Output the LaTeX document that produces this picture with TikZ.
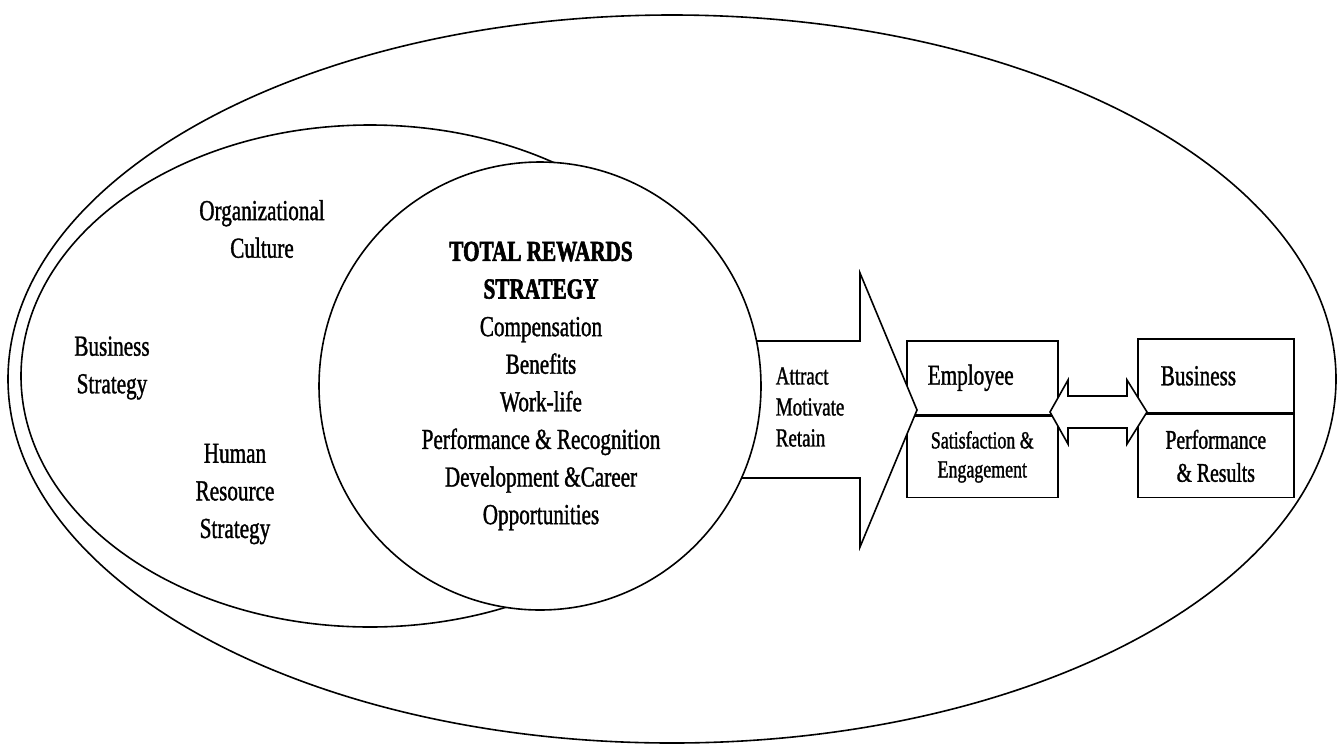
\documentclass[tikz,border=0pt]{standalone}
\usepackage{fontspec}
\setmainfont{Liberation Serif}[FakeStretch=0.73, UprightFeatures={FakeBold=1.2}, BoldFeatures={FakeBold=2}]
\usetikzlibrary{positioning}

\begin{document}
\begin{tikzpicture}[x=1pt, y=-1pt, line width=1.6pt, line join=miter,
    txt/.style={align=center, inner sep=0pt, font=\fontsize{29}{37.6}\selectfont},
    box/.style={draw, inner sep=0pt, minimum height=74, font=\fontsize{29}{34}\selectfont},
    shp/.style={draw, fill=white}]

\useasboundingbox (0,0) rectangle (1344,745);

% rings
\draw (672,379) ellipse [x radius=664, y radius=364];
\draw (370,376) ellipse [x radius=349, y radius=251];

% outcome boxes
\node[box, anchor=north west, inner xsep=21, text width=109, align=left] (emp) at (906,340) {Employee};
\node[box, anchor=north, minimum width=151, minimum height=81, align=center,
      font=\fontsize{24.5}{29}\selectfont] (sat) at (emp.south) {Satisfaction \&\\Engagement};
\node[box, anchor=north west, inner xsep=23, text width=110, align=left] (bus) at (1137,338) {Business};
\node[box, anchor=north, minimum width=156, minimum height=83, align=center,
      font=\fontsize{27}{33}\selectfont] (perf) at (bus.south) {Performance\\\& Results};

% arrows
\draw[shp] (700,341) -- (860,341) -- (860,273) -- (917,410) -- (860,547) -- (860,478) -- (700,478) -- cycle;
\draw[shp] (1050,412) -- (1068,380) -- (1068,396) -- (1127,396) -- (1127,380) -- (1147,412)
    -- (1127,444) -- (1127,428) -- (1068,428) -- (1068,444) -- cycle;

% strategy circle
\draw[shp] (540,386) ellipse [x radius=221, y radius=224];

\node[txt] (trs) at (541,386)
    {\textbf{TOTAL REWARDS}\\\textbf{STRATEGY}\\Compensation\\Benefits\\Work-life\\
     Performance \& Recognition\\Development \&Career\\Opportunities};

\node[txt] (org) at (262,229) {Organizational\\Culture};
\node[txt] (bst) at (112,368) {Business\\Strategy};
\node[txt] (hrs) at (235,494) {Human\\Resource\\Strategy};
\node[txt, anchor=west, align=left, font=\fontsize{26}{31}\selectfont] (amr) at (775,407) {Attract\\Motivate\\Retain};

\end{tikzpicture}
\end{document}
